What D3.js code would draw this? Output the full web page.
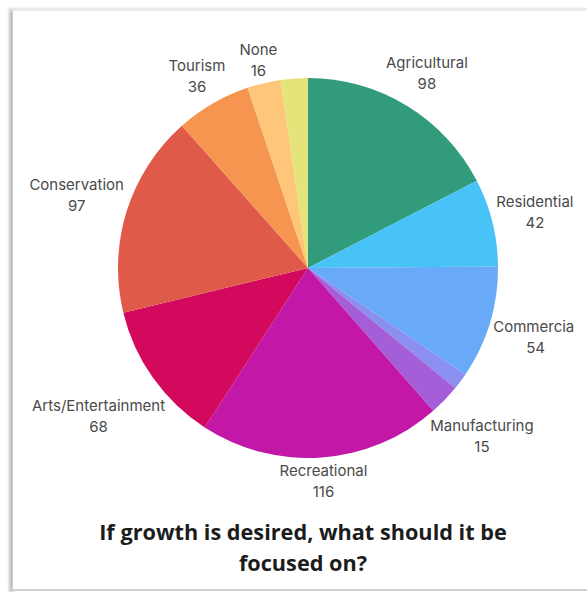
<!DOCTYPE html>
<html>
<head>
<meta charset="utf-8">
<script src="https://cdn.jsdelivr.net/npm/d3@7/dist/d3.min.js"></script>
<style>
  html, body { margin: 0; padding: 0; background: #fff; }
  svg { display: block; }
</style>
</head>
<body>
<svg id="chart" width="587" height="592"></svg>
<script>
// Survey answers: where growth should be focused
const categories = ["Agricultural", "Residential", "Commercial", "Mixed Use", "Manufacturing",
  "Recreational", "Arts/Entertainment", "Conservation", "Tourism", "None", "Other"];
const counts = [98, 42, 54, 8, 15, 116, 68, 97, 36, 16, 13];
const sliceColors = ["#319b7c", "#48c3f8", "#68a9f8", "#8a8ff0", "#a45ed7",
  "#c318a7", "#d2095c", "#e05a49", "#f6954f", "#fdc678", "#e5e47a"];
const titleLines = ["If growth is desired, what should it be", "focused on?"];
const minLabelled = 15;

const svg = d3.select("#chart");
const W = 587, H = 592;

// card frame with a soft shadow on its left and top edges
const defs = svg.append("defs");
const blur = defs.append("filter").attr("id", "soft")
  .attr("filterUnits", "userSpaceOnUse").attr("x", 0).attr("y", 0).attr("width", W).attr("height", H);
blur.append("feGaussianBlur").attr("stdDeviation", 1.2);
defs.append("clipPath").attr("id", "plotClip")
  .append("rect").attr("x", 26).attr("y", 12).attr("width", 548).attr("height", 575);

svg.append("rect").attr("x", 9).attr("y", 9).attr("width", 5).attr("height", H - 9)
  .attr("fill", "#c4c4c4").attr("filter", "url(#soft)");
svg.append("rect").attr("x", 9).attr("y", 8).attr("width", W - 9).attr("height", 3)
  .attr("fill", "#e4e4e4").attr("filter", "url(#soft)");
svg.append("rect").attr("x", 11).attr("y", 589).attr("width", W - 11).attr("height", 2)
  .attr("fill", "#d0d0d0");
svg.append("rect").attr("x", 13).attr("y", 11).attr("width", W - 13).attr("height", 578).attr("fill", "#fff");

const cx = 308, cy = 268, r = 190;
const data = categories.map((c, i) => ({ name: c, value: counts[i], color: sliceColors[i] }));
const pie = d3.pie().value(d => d.value).sort(null);
const arcs = pie(data);
const arc = d3.arc().innerRadius(0).outerRadius(r);

const plot = svg.append("g").attr("clip-path", "url(#plotClip)");
const g = plot.append("g").attr("transform", `translate(${cx},${cy})`);

g.selectAll("path.slice").data(arcs).join("path")
  .attr("class", "slice")
  .attr("d", arc)
  .attr("fill", d => d.data.color);

// two-line labels placed just outside the rim along each slice's mid angle
const labelFont = "15px Inter, 'Noto Sans', sans-serif";
const lab = g.selectAll("g.lab").data(arcs.filter(d => d.data.value >= minLabelled)).join("g")
  .attr("class", "lab");
lab.append("text").attr("class", "l1").attr("text-anchor", "middle")
  .style("font", labelFont).attr("fill", "#4a4a4a").text(d => d.data.name);
lab.append("text").attr("class", "l2").attr("text-anchor", "middle")
  .style("font", labelFont).attr("fill", "#4a4a4a").text(d => d.data.value);

lab.each(function (d) {
  const el = d3.select(this);
  const w = Math.max(el.select(".l1").node().getComputedTextLength(), el.select(".l2").node().getComputedTextLength());
  const h = 36;
  const a = (d.startAngle + d.endAngle) / 2;
  const s = Math.sin(a), c = Math.cos(a);
  const dist = r + 2 + Math.abs(s) * w / 2 + Math.abs(c) * h / 2;
  const x = s * dist, y = -c * dist;
  el.select(".l1").attr("x", x).attr("y", y - 5);
  el.select(".l2").attr("x", x).attr("y", y + 16);
});

// title
svg.selectAll("text.title").data(titleLines).join("text")
  .attr("class", "title")
  .attr("x", 303)
  .attr("y", (d, i) => 540 + i * 31)
  .attr("text-anchor", "middle")
  .style("font", "bold 21.7px 'Open Sans', sans-serif")
  .attr("fill", "#1c1c1c")
  .text(d => d);
</script>
</body>
</html>
